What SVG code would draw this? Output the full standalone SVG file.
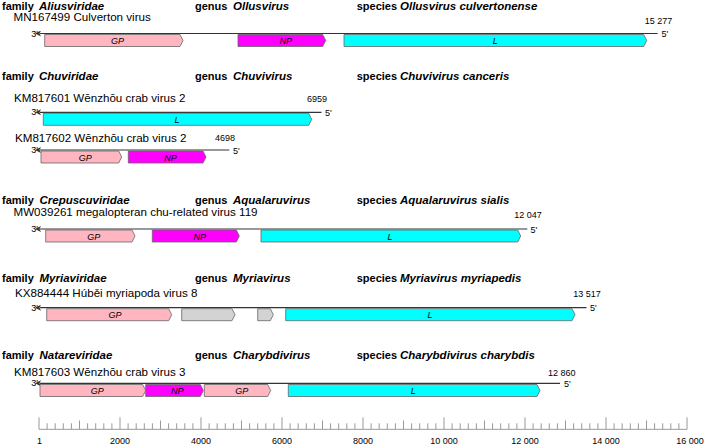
<svg xmlns="http://www.w3.org/2000/svg" width="710" height="448" viewBox="0 0 710 448">
<style>
text{font-family:"Liberation Sans",Arial,sans-serif;fill:#000}
.fam{font-size:11px;font-weight:bold}
.fi{font-style:italic;font-size:11.5px}
.acc{font-size:11.6px}
.sm{font-size:9px}
.gl{font-size:9px;font-style:italic;text-anchor:middle}
.line{stroke:#333;stroke-width:1.2;fill:none}
.gp{fill:#FFB6C1;stroke:#666;stroke-width:0.8}
.np{fill:#FF00FF;stroke:#666;stroke-width:0.8}
.l{fill:#00FFFF;stroke:#666;stroke-width:0.8}
.gr{fill:#D3D3D3;stroke:#666;stroke-width:0.8}
.tick{stroke:#999;stroke-width:1}
.mid{text-anchor:middle}
</style>
<defs>
<marker id="ah" viewBox="0 0 6 6" refX="1" refY="3" markerWidth="6" markerHeight="6" markerUnits="userSpaceOnUse" orient="auto-start-reverse">
<path d="M0,0 L6,3 L0,6 L1.5,3 Z" fill="#333"/>
</marker>
</defs>

<g id="headers">
<text class="fam" x="2" y="9.5">family<tspan class="fi" x="39">Aliusviridae</tspan></text>
<text class="fam" x="195" y="9.5">genus<tspan class="fi" x="233">Ollusvirus</tspan></text>
<text class="fam" x="356.7" y="9.5">species<tspan class="fi" x="400">Ollusvirus culvertonense</tspan></text>
<text class="fam" x="2" y="80">family<tspan class="fi" x="39">Chuviridae</tspan></text>
<text class="fam" x="195" y="80">genus<tspan class="fi" x="233">Chuvivirus</tspan></text>
<text class="fam" x="356.7" y="80">species<tspan class="fi" x="400">Chuvivirus canceris</tspan></text>
<text class="fam" x="2" y="203.5">family<tspan class="fi" x="39.5">Crepuscuviridae</tspan></text>
<text class="fam" x="195" y="203.5">genus<tspan class="fi" x="233">Aqualaruvirus</tspan></text>
<text class="fam" x="356.7" y="203.5">species<tspan class="fi" x="400">Aqualaruvirus sialis</tspan></text>
<text class="fam" x="2" y="281.5">family<tspan class="fi" x="39.5">Myriaviridae</tspan></text>
<text class="fam" x="195" y="281.5">genus<tspan class="fi" x="233">Myriavirus</tspan></text>
<text class="fam" x="356.7" y="281.5">species<tspan class="fi" x="400">Myriavirus myriapedis</tspan></text>
<text class="fam" x="2" y="359">family<tspan class="fi" x="39.5">Natareviridae</tspan></text>
<text class="fam" x="195" y="359">genus<tspan class="fi" x="233">Charybdivirus</tspan></text>
<text class="fam" x="356.7" y="359">species<tspan class="fi" x="400">Charybdivirus charybdis</tspan></text>
</g>

<g id="genome1">
<text class="acc" x="13.5" y="21">MN167499 Culverton virus</text>
<text class="sm mid" x="658.5" y="24">15 277</text>
<text class="sm" x="38" y="36.5" text-anchor="end">3'</text>
<text class="sm" x="661.5" y="37">5'</text>
<line class="line" x1="40" y1="33.5" x2="657.7" y2="33.5" marker-start="url(#ah)"/>
<polygon class="gp" points="44.7,34.5 180,34.5 183,40.5 180,46.5 44.7,46.5"/>
<text class="gl" x="117.5" y="44">GP</text>
<polygon class="np" points="238,34.5 322.7,34.5 325.7,40.5 322.7,46.5 238,46.5"/>
<text class="gl" x="285.7" y="44">NP</text>
<polygon class="l" points="344,34.5 643.7,34.5 646.7,40.5 643.7,46.5 344,46.5"/>
<text class="gl" x="495.3" y="44">L</text>
</g>

<g id="genome2">
<text class="acc" x="14" y="102">KM817601 Wēnzhōu crab virus 2</text>
<text class="sm mid" x="317" y="101.5">6959</text>
<text class="sm" x="38" y="115.3" text-anchor="end">3'</text>
<text class="sm" x="325" y="116">5'</text>
<line class="line" x1="40" y1="112.3" x2="321.5" y2="112.3" marker-start="url(#ah)"/>
<polygon class="l" points="43.3,113.3 308.7,113.3 311.7,119.3 308.7,125.3 43.3,125.3"/>
<text class="gl" x="177" y="122.8">L</text>
</g>

<g id="genome3">
<text class="acc" x="15" y="141.5">KM817602 Wēnzhōu crab virus 2</text>
<text class="sm mid" x="225" y="141">4698</text>
<text class="sm" x="38" y="153" text-anchor="end">3'</text>
<text class="sm" x="233" y="153.5">5'</text>
<line class="line" x1="40" y1="150" x2="229.3" y2="150" marker-start="url(#ah)"/>
<polygon class="gp" points="41,151 118.7,151 121.7,157 118.7,163 41,163"/>
<text class="gl" x="85.3" y="160.5">GP</text>
<polygon class="np" points="128.3,151 203,151 206,157 203,163 128.3,163"/>
<text class="gl" x="170.5" y="160.5">NP</text>
</g>

<g id="genome4">
<text class="acc" x="13.5" y="216">MW039261 megalopteran chu-related virus 119</text>
<text class="sm mid" x="528" y="218">12 047</text>
<text class="sm" x="38" y="232" text-anchor="end">3'</text>
<text class="sm" x="530.5" y="232.5">5'</text>
<line class="line" x1="40" y1="229" x2="527.3" y2="229" marker-start="url(#ah)"/>
<polygon class="gp" points="45.7,230 132,230 135,236 132,242 45.7,242"/>
<text class="gl" x="93.7" y="239.5">GP</text>
<polygon class="np" points="152.3,230 236.3,230 239.3,236 236.3,242 152.3,242"/>
<text class="gl" x="199.7" y="239.5">NP</text>
<polygon class="l" points="261,230 517.7,230 520.7,236 517.7,242 261,242"/>
<text class="gl" x="390" y="239.5">L</text>
</g>

<g id="genome5">
<text class="acc" x="15" y="297">KX884444 Húběi myriapoda virus 8</text>
<text class="sm mid" x="587" y="296.5">13 517</text>
<text class="sm" x="38" y="310.7" text-anchor="end">3'</text>
<text class="sm" x="590" y="311.2">5'</text>
<line class="line" x1="40" y1="307.7" x2="586.5" y2="307.7" marker-start="url(#ah)"/>
<polygon class="gp" points="46.7,308.7 168.7,308.7 171.7,314.7 168.7,320.7 46.7,320.7"/>
<text class="gl" x="115" y="318.2">GP</text>
<polygon class="gr" points="181.7,308.7 232,308.7 235,314.7 232,320.7 181.7,320.7"/>
<polygon class="gr" points="257.7,308.7 270.3,308.7 273.3,314.7 270.3,320.7 257.7,320.7"/>
<polygon class="l" points="285.7,308.7 572,308.7 575,314.7 572,320.7 285.7,320.7"/>
<text class="gl" x="430" y="318.2">L</text>
</g>

<g id="genome6">
<text class="acc" x="14" y="375.5">KM817603 Wēnzhōu crab virus 3</text>
<text class="sm mid" x="561.7" y="375.5">12 860</text>
<text class="sm" x="38" y="386.3" text-anchor="end">3'</text>
<text class="sm" x="564" y="387">5'</text>
<line class="line" x1="40" y1="383.3" x2="560" y2="383.3" marker-start="url(#ah)"/>
<polygon class="gp" points="40,384.5 142.7,384.5 145.7,390.5 142.7,396.5 40,396.5"/>
<text class="gl" x="97.3" y="394">GP</text>
<polygon class="np" points="145.7,384.5 200.3,384.5 203.3,390.5 200.3,396.5 145.7,396.5"/>
<text class="gl" x="177.3" y="394">NP</text>
<polygon class="gp" points="204.3,384.5 267.7,384.5 270.7,390.5 267.7,396.5 204.3,396.5"/>
<text class="gl" x="241.7" y="394">GP</text>
<polygon class="l" points="288.3,384.5 537,384.5 540,390.5 537,396.5 288.3,396.5"/>
<text class="gl" x="413.3" y="394">L</text>
</g>

<g id="scale">
<line class="tick" x1="39" y1="429.3" x2="687" y2="429.3"/>
<path class="tick" fill="none" d="M39,417.3V429.3 M47.1,423.3V429.3 M55.2,423.3V429.3 M63.3,423.3V429.3 M71.4,423.3V429.3 M79.5,420.5V429.3 M87.6,423.3V429.3 M95.7,423.3V429.3 M103.8,423.3V429.3 M111.9,423.3V429.3 M120,417.3V429.3 M128.1,423.3V429.3 M136.2,423.3V429.3 M144.3,423.3V429.3 M152.4,423.3V429.3 M160.5,420.5V429.3 M168.6,423.3V429.3 M176.7,423.3V429.3 M184.8,423.3V429.3 M192.9,423.3V429.3 M201,417.3V429.3 M209.1,423.3V429.3 M217.2,423.3V429.3 M225.3,423.3V429.3 M233.4,423.3V429.3 M241.5,420.5V429.3 M249.6,423.3V429.3 M257.7,423.3V429.3 M265.8,423.3V429.3 M273.9,423.3V429.3 M282,417.3V429.3 M290.1,423.3V429.3 M298.2,423.3V429.3 M306.3,423.3V429.3 M314.4,423.3V429.3 M322.5,420.5V429.3 M330.6,423.3V429.3 M338.7,423.3V429.3 M346.8,423.3V429.3 M354.9,423.3V429.3 M363,417.3V429.3 M371.1,423.3V429.3 M379.2,423.3V429.3 M387.3,423.3V429.3 M395.4,423.3V429.3 M403.5,420.5V429.3 M411.6,423.3V429.3 M419.7,423.3V429.3 M427.8,423.3V429.3 M435.9,423.3V429.3 M444,417.3V429.3 M452.1,423.3V429.3 M460.2,423.3V429.3 M468.3,423.3V429.3 M476.4,423.3V429.3 M484.5,420.5V429.3 M492.6,423.3V429.3 M500.7,423.3V429.3 M508.8,423.3V429.3 M516.9,423.3V429.3 M525,417.3V429.3 M533.1,423.3V429.3 M541.2,423.3V429.3 M549.3,423.3V429.3 M557.4,423.3V429.3 M565.5,420.5V429.3 M573.6,423.3V429.3 M581.7,423.3V429.3 M589.8,423.3V429.3 M597.9,423.3V429.3 M606,417.3V429.3 M614.1,423.3V429.3 M622.2,423.3V429.3 M630.3,423.3V429.3 M638.4,423.3V429.3 M646.5,420.5V429.3 M654.6,423.3V429.3 M662.7,423.3V429.3 M670.8,423.3V429.3 M678.9,423.3V429.3 M687,417.3V429.3"/>
<text class="sm mid" x="39.5" y="443.5">1</text>
<text class="sm mid" x="120" y="443.5">2000</text>
<text class="sm mid" x="201" y="443.5">4000</text>
<text class="sm mid" x="282" y="443.5">6000</text>
<text class="sm mid" x="363" y="443.5">8000</text>
<text class="sm mid" x="444" y="443.5">10 000</text>
<text class="sm mid" x="525" y="443.5">12 000</text>
<text class="sm mid" x="606" y="443.5">14 000</text>
<text class="sm mid" x="690" y="443.5">16 000</text>
</g>
</svg>
